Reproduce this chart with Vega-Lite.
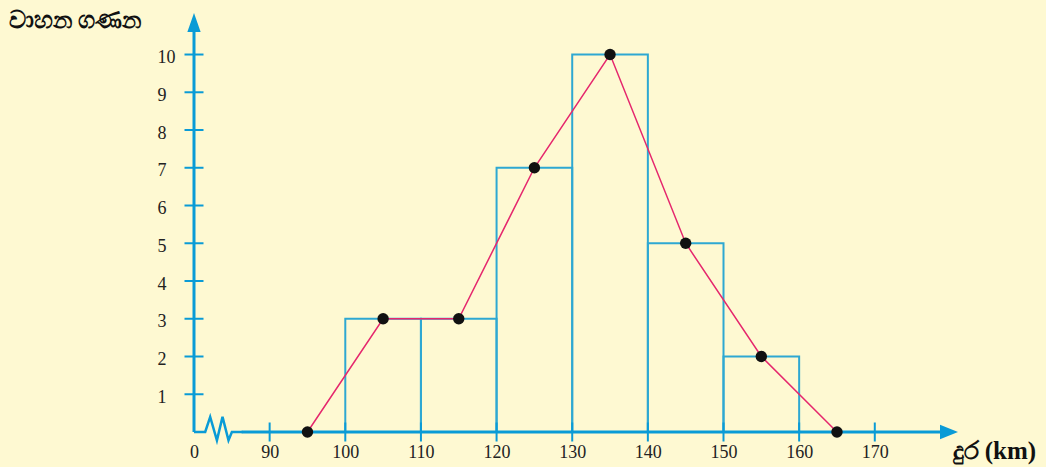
{
  "$schema": "https://vega.github.io/schema/vega-lite/v6.json",
  "width": 764,
  "height": 419,
  "autosize": {"type": "none"},
  "padding": {"left": 194, "top": 13, "right": 88, "bottom": 35},
  "background": "#FEF9D2",
  "config": {
    "view": {"stroke": null},
    "axis": {
      "grid": false,
      "domain": false,
      "ticks": false,
      "labelFont": "Liberation Serif",
      "labelFontSize": 18,
      "labelColor": "#222222",
      "labelFlush": false,
      "labelOverlap": false
    }
  },
  "datasets": {
    "bins": [
      {"lo": 100, "hi": 110, "n": 3},
      {"lo": 110, "hi": 120, "n": 3},
      {"lo": 120, "hi": 130, "n": 7},
      {"lo": 130, "hi": 140, "n": 10},
      {"lo": 140, "hi": 150, "n": 5},
      {"lo": 150, "hi": 160, "n": 2}
    ],
    "poly": [
      {"d": 95, "n": 0},
      {"d": 105, "n": 3},
      {"d": 115, "n": 3},
      {"d": 125, "n": 7},
      {"d": 135, "n": 10},
      {"d": 145, "n": 5},
      {"d": 155, "n": 2},
      {"d": 165, "n": 0}
    ],
    "brk": [
      {"d": 80, "v": 0},
      {"d": 81.48, "v": 0},
      {"d": 82.14, "v": 0.4},
      {"d": 83.03, "v": -0.22},
      {"d": 83.77, "v": 0.4},
      {"d": 84.56, "v": -0.22},
      {"d": 85.01, "v": 0},
      {"d": 86.4, "v": 0}
    ],
    "yt": [{"v": 1}, {"v": 2}, {"v": 3}, {"v": 4}, {"v": 5}, {"v": 6}, {"v": 7}, {"v": 8}, {"v": 9}, {"v": 10}],
    "xt": [{"v": 90}, {"v": 100}, {"v": 110}, {"v": 120}, {"v": 130}, {"v": 140}, {"v": 150}, {"v": 160}, {"v": 170}]
  },
  "layer": [
    {
      "data": {"name": "bins"},
      "mark": {"type": "rect", "fill": "transparent", "stroke": "#2EA8D2", "strokeWidth": 2},
      "encoding": {
        "x": {
          "field": "lo", "type": "quantitative",
          "scale": {"domain": [80, 181], "nice": false, "zero": false},
          "axis": {
            "values": [80, 90, 100, 110, 120, 130, 140, 150, 160, 170],
            "labelExpr": "datum.value == 80 ? '0' : datum.label",
            "labelPadding": 11,
            "title": "දුර (km)",
            "titleFont": "Liberation Serif",
            "titleFontSize": 25,
            "titleFontWeight": "bold",
            "titleColor": "#111111",
            "titleAlign": "left",
            "titleBaseline": "middle",
            "titleAnchor": "start",
            "titleX": 758,
            "titleY": 18
          }
        },
        "x2": {"field": "hi"},
        "y": {
          "field": "n", "type": "quantitative",
          "scale": {"domain": [0, 11.1], "nice": false, "zero": true},
          "axis": {
            "values": [1, 2, 3, 4, 5, 6, 7, 8, 9, 10],
            "labelAlign": "left",
            "labelPadding": 37,
            "labelOffset": 3,
            "title": "වාහන ගණන",
            "titleFont": "Noto Sans",
            "titleFontSize": 24,
            "titleFontWeight": "bold",
            "titleColor": "#111111",
            "titleAngle": 0,
            "titleAlign": "left",
            "titleBaseline": "middle",
            "titleAnchor": "start",
            "titleX": -186,
            "titleY": 7
          }
        },
        "y2": {"datum": 0}
      }
    },
    {
      "data": {"values": [{}]},
      "mark": {"type": "rule", "color": "#0A9BD6", "strokeWidth": 3},
      "encoding": {
        "x": {"datum": 80, "type": "quantitative"},
        "y": {"datum": 0, "type": "quantitative"},
        "y2": {"datum": 10.9}
      }
    },
    {
      "data": {"values": [{}]},
      "mark": {"type": "rule", "color": "#0A9BD6", "strokeWidth": 3},
      "encoding": {
        "x": {"datum": 86.3, "type": "quantitative"},
        "x2": {"datum": 180},
        "y": {"datum": 0, "type": "quantitative"}
      }
    },
    {
      "data": {"name": "brk"},
      "mark": {"type": "line", "color": "#0A9BD6", "strokeWidth": 2.5, "strokeJoin": "miter"},
      "encoding": {
        "x": {"field": "d", "type": "quantitative"},
        "y": {"field": "v", "type": "quantitative"}
      }
    },
    {
      "data": {"name": "yt"},
      "mark": {"type": "tick", "orient": "horizontal", "size": 19, "thickness": 2, "color": "#0A9BD6", "opacity": 1},
      "encoding": {
        "x": {"datum": 80, "type": "quantitative"},
        "y": {"field": "v", "type": "quantitative"}
      }
    },
    {
      "data": {"name": "xt"},
      "mark": {"type": "tick", "orient": "vertical", "size": 19, "thickness": 2, "color": "#0A9BD6", "opacity": 1},
      "encoding": {
        "x": {"field": "v", "type": "quantitative"},
        "y": {"datum": 0, "type": "quantitative"}
      }
    },
    {
      "data": {"values": [{}]},
      "mark": {"type": "point", "shape": "M0,0L-0.7,2L0.7,2Z", "size": 361, "filled": true, "color": "#0A9BD6", "opacity": 1, "strokeWidth": 0},
      "encoding": {
        "x": {"datum": 80, "type": "quantitative"},
        "y": {"datum": 11.1, "type": "quantitative"}
      }
    },
    {
      "data": {"values": [{}]},
      "mark": {"type": "point", "shape": "M0,0L-2,-0.8L-2,0.8Z", "size": 324, "filled": true, "color": "#0A9BD6", "opacity": 1, "strokeWidth": 0},
      "encoding": {
        "x": {"datum": 181, "type": "quantitative"},
        "y": {"datum": 0, "type": "quantitative"}
      }
    },
    {
      "data": {"name": "poly"},
      "mark": {"type": "line", "color": "#E5276D", "strokeWidth": 1.5},
      "encoding": {
        "x": {"field": "d", "type": "quantitative"},
        "y": {"field": "n", "type": "quantitative"}
      }
    },
    {
      "data": {"name": "poly"},
      "mark": {"type": "circle", "size": 130, "color": "#111111", "opacity": 1},
      "encoding": {
        "x": {"field": "d", "type": "quantitative"},
        "y": {"field": "n", "type": "quantitative"}
      }
    }
  ]
}
